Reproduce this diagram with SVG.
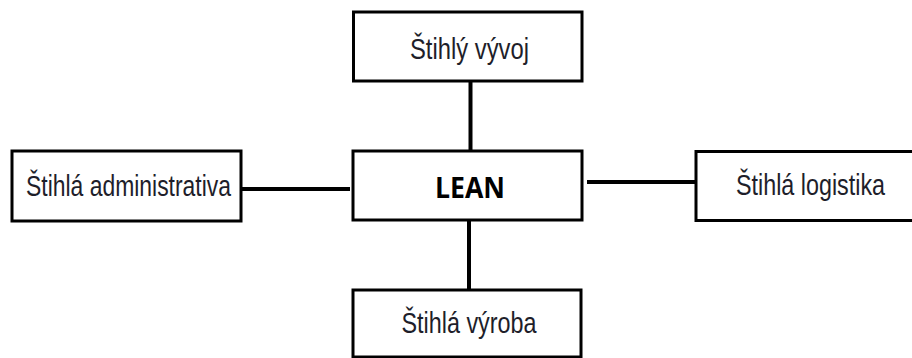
<svg xmlns="http://www.w3.org/2000/svg" width="912" height="358" viewBox="0 0 912 358">
<style>
.box{fill:#fff;stroke:#000;stroke-width:3}
.lbl{font-family:"Liberation Sans",Arial,sans-serif;font-size:30px;fill:#1e1e2a;text-anchor:middle}
.main{font-family:"Open Sans","Liberation Sans",sans-serif;font-weight:bold;font-size:28px;fill:#000;text-anchor:middle}
.conn{stroke:#000;stroke-width:4;fill:none}
</style>
<rect width="912" height="358" fill="#fff"/>
<g id="connectors">
<line class="conn" x1="470.5" y1="82" x2="470.5" y2="150"/>
<line class="conn" x1="469" y1="221" x2="469" y2="289"/>
<line class="conn" x1="242" y1="189" x2="350" y2="189"/>
<line class="conn" x1="587" y1="182" x2="695" y2="182"/>
</g>
<g id="lean">
<rect class="box" x="353" y="151" width="229" height="69"/>
<text class="main" x="470" y="197.5" textLength="70" lengthAdjust="spacingAndGlyphs">LEAN</text>
</g>
<g id="vyvoj">
<rect class="box" x="353.5" y="12" width="228.5" height="69"/>
<text class="lbl" x="469.5" y="59" textLength="119" lengthAdjust="spacingAndGlyphs">Štihlý vývoj</text>
</g>
<g id="administrativa">
<rect class="box" x="12" y="151" width="229" height="70"/>
<text class="lbl" x="128.5" y="195.5" textLength="205" lengthAdjust="spacingAndGlyphs">Štihlá administrativa</text>
</g>
<g id="logistika">
<rect class="box" x="696" y="151.5" width="230" height="69"/>
<text class="lbl" x="810.5" y="195" textLength="149" lengthAdjust="spacingAndGlyphs">Štihlá logistika</text>
</g>
<g id="vyroba">
<rect class="box" x="353" y="290" width="228" height="67"/>
<text class="lbl" x="469" y="333" textLength="135" lengthAdjust="spacingAndGlyphs">Štihlá výroba</text>
</g>
</svg>
